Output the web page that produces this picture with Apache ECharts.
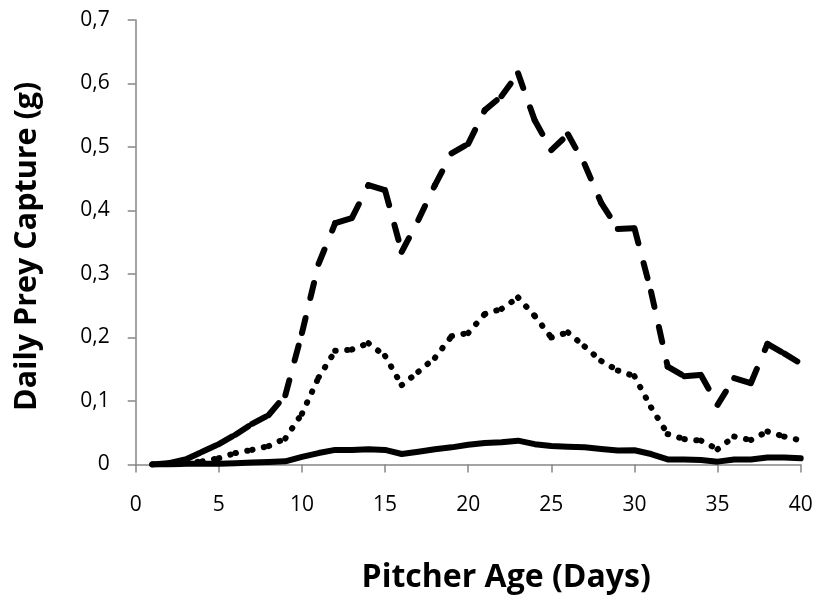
<!DOCTYPE html>
<html><head><meta charset="utf-8">
<script src="https://cdn.jsdelivr.net/npm/echarts@6/dist/echarts.min.js"></script>
<style>html,body{margin:0;padding:0;background:#fff}#c{width:817px;height:600px}</style>
</head><body><div id="c"></div>
<script>
// Pitcher age (days)
const days = [1,2,3,4,5,6,7,8,9,10,11,12,13,14,15,16,17,18,19,20,
              21,22,23,24,25,26,27,28,29,30,31,32,33,34,35,36,37,38,39,40];
// dashed line (highest)
const dashedSeries = [0,0.002,0.008,0.02,0.032,0.047,0.064,0.078,0.109,0.207,
                      0.316,0.38,0.388,0.44,0.432,0.335,0.385,0.44,0.49,0.505,
                      0.558,0.58,0.616,0.542,0.495,0.52,0.473,0.412,0.371,0.372,
                      0.272,0.154,0.139,0.141,0.094,0.136,0.128,0.19,0.175,0.159];
// dotted line (middle)
const dottedSeries = [0,0.001,0.002,0.005,0.01,0.018,0.023,0.029,0.041,0.08,
                      0.137,0.179,0.181,0.191,0.171,0.125,0.146,0.168,0.202,0.207,
                      0.237,0.245,0.263,0.234,0.2,0.208,0.186,0.163,0.148,0.139,
                      0.09,0.048,0.04,0.0375,0.024,0.044,0.0386,0.052,0.044,0.038];
// solid line (lowest)
const solidSeries = [0,0,0.001,0.001,0.001,0.002,0.003,0.004,0.005,0.012,
                     0.018,0.023,0.023,0.024,0.023,0.0165,0.02,0.024,0.027,0.031,
                     0.034,0.035,0.0375,0.032,0.029,0.028,0.027,0.0245,0.022,0.0225,
                     0.0165,0.008,0.008,0.007,0.0045,0.008,0.008,0.011,0.011,0.0098];
const yTickLabels = ['0','0,1','0,2','0,3','0,4','0,5','0,6','0,7'];
const xTitle = 'Pitcher Age (Days)';
const yTitle = 'Daily Prey Capture (g)';

const FONT = 'Open Sans';
const axisColor = '#868686';

// Excel restarts the dash pattern at every data point, so each segment is its own path
function segmentSeries(values, dash) {
  const out = [];
  for (let i = 0; i < values.length - 1; i++) {
    out.push({
      type: 'line',
      data: [[days[i], values[i]], [days[i + 1], values[i + 1]]],
      symbol: 'none', silent: true, animation: false,
      lineStyle: { color: '#000', width: 6, type: dash, cap: 'round', join: 'round' }
    });
  }
  return out;
}

const series = [].concat(
  segmentSeries(dottedSeries, [0.5, 11.5]),
  segmentSeries(dashedSeries, [15.5, 20.5]),
  [{
    type: 'line',
    data: days.map((d, i) => [d, solidSeries[i]]),
    symbol: 'none', silent: true, animation: false,
    lineStyle: { color: '#000', width: 6, cap: 'round', join: 'round' }
  }]
);

const chart = echarts.init(document.getElementById('c'), null, { renderer: 'canvas' });
chart.setOption({
  backgroundColor: '#fff',
  animation: false,
  grid: { left: 135.7, right: 16.3, top: 20, bottom: 135.5, containLabel: false },
  xAxis: {
    type: 'value', min: 0, max: 40, interval: 5,
    axisLine: { show: true, lineStyle: { color: axisColor, width: 1.5 } },
    axisTick: { show: true, length: 8, lineStyle: { color: axisColor, width: 1.5 } },
    splitLine: { show: false },
    axisLabel: { color: '#000', fontFamily: FONT, fontSize: 21, margin: 30 },
    name: xTitle, nameLocation: 'middle', nameGap: 97,
    nameTextStyle: { color: '#000', fontFamily: FONT, fontSize: 32, fontWeight: 'bold',
                     padding: [0, 0, 0, 76] }
  },
  yAxis: {
    type: 'value', min: 0, max: 0.7, interval: 0.1,
    axisLine: { show: true, lineStyle: { color: axisColor, width: 1.5 } },
    axisTick: { show: true, length: 8, lineStyle: { color: axisColor, width: 1.5 } },
    splitLine: { show: false },
    axisLabel: {
      color: '#000', fontFamily: FONT, fontSize: 21, margin: 26,
      formatter: v => yTickLabels[Math.round(v * 10)]
    },
    name: yTitle, nameLocation: 'middle', nameGap: 93, nameRotate: 90,
    nameTextStyle: { color: '#000', fontFamily: FONT, fontSize: 30.5, fontWeight: 'bold',
                     padding: [0, 8, 0, 0] }
  },
  series: series
});
</script>
</body></html>
